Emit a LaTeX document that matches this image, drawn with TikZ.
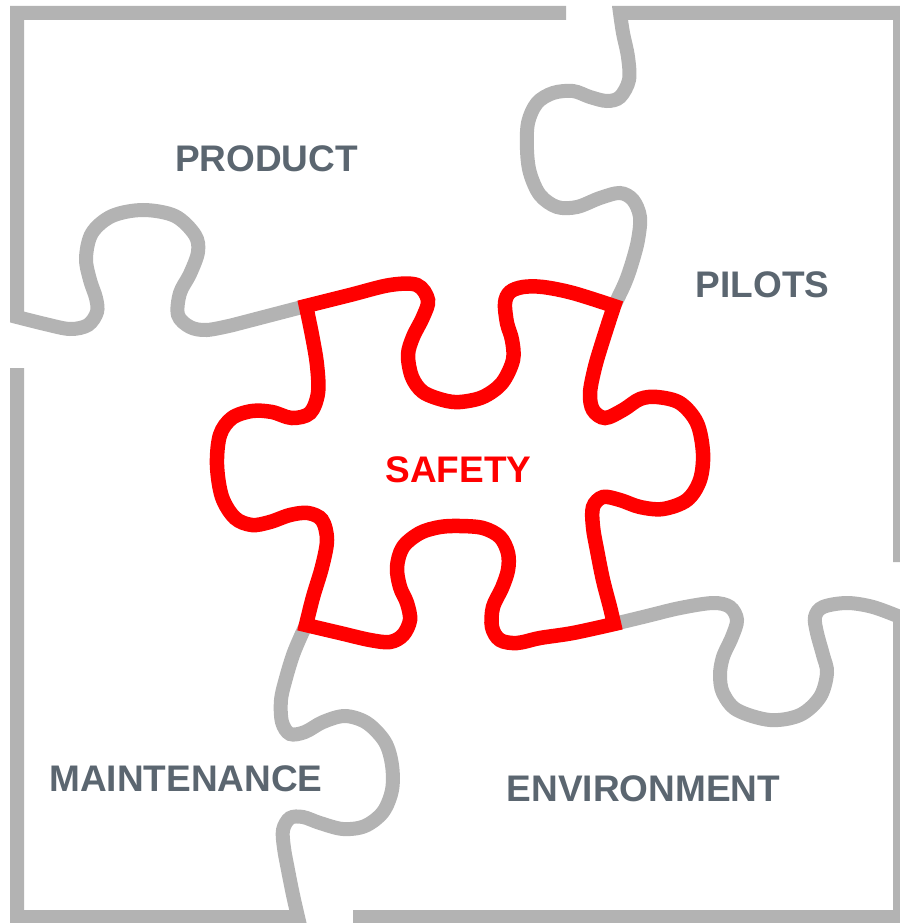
\documentclass[tikz,border=0pt]{standalone}
\usepackage{fontspec}
\setmainfont{Liberation Sans}
\definecolor{edgegray}{RGB}{179,179,179}
\definecolor{labelgray}{RGB}{91,102,112}
\definecolor{safered}{RGB}{255,0,0}
\tikzset{
  outline/.style={draw=edgegray, line width=14pt, line cap=butt, line join=miter},
  core/.style={draw=safered, line width=14.5pt, line cap=butt, line join=miter},
  label/.style={inner sep=0pt, text=labelgray, font=\fontsize{37}{40}\selectfont\bfseries},
  corelabel/.style={label, text=safered},
  wavy/.style={smooth, tension=0.55}
}
\begin{document}
\begin{tikzpicture}[x=1pt, y=-1pt]
\useasboundingbox (0,0) rectangle (899,923);

% top-left piece
\draw[outline] (566,13) -- (17,13) -- (17,317)
  -- plot[wavy] coordinates {(17,317) (45,324) (70,329) (88,325) (97,312) (96,298)
     (90,280) (86,258) (92,233) (112,216) (143,210) (175,216) (195,235) (198,252)
     (190,274) (180,293) (178,315) (190,327) (207,330) (233,325)}
  -- (306,306);

% top-right piece
\draw[outline] (900,562) -- (900,13) -- (620,13)
  -- plot[wavy] coordinates {(620,13) (623,33) (628,57) (629,80) (620,97) (607,101)
     (590,97) (573,91) (553,93) (537,103) (528,123) (527,150) (530,173) (540,195)
     (557,207) (577,207) (600,198) (620,193) (633,200) (640,217) (638,240)
     (632,263) (625,283) (614,306)};

% bottom-left piece
\draw[outline] (17,368) -- (17,917) -- (298,917)
  -- plot[wavy] coordinates {(298,917) (293,895) (288,870) (284,848) (283,830)
     (290,818) (303,817) (320,823) (343,829) (365,826) (383,812) (392,790)
     (392,765) (385,742) (367,723) (345,716) (323,722) (305,732) (290,734)
     (282,722) (281,700) (286,678) (293,655) (300,638) (306,625)};

% bottom-right piece
\draw[outline] (614,624)
  -- plot[wavy] coordinates {(614,624) (647,616) (680,608) (713,603) (730,607)
     (737,620) (732,637) (723,657) (720,675) (723,693) (737,710) (770,720)
     (800,715) (820,697) (827,673) (823,655) (817,633) (815,617) (823,607)
     (847,603) (873,607) (900,617)}
  -- (900,917) -- (353,917);

% central piece
\draw[core] (306,306)
  -- plot[wavy] coordinates {(306,306) (350,295) (390,285) (417,285) (428,300)
     (423,317) (413,337) (408,355) (412,377) (423,392) (443,400) (460,402)
     (483,397) (502,383) (513,360) (512,340) (507,323) (505,303) (510,292)
     (523,287) (543,287) (573,293) (614,306)}
  -- plot[wavy] coordinates {(614,306) (603,340) (595,367) (590,393) (593,410)
     (605,418) (623,410) (640,399) (657,397) (680,403) (697,423) (703,453)
     (700,480) (687,500) (663,509) (640,507) (620,500) (603,497) (593,507)
     (593,527) (597,550) (603,580) (610,607) (614,624)}
  -- plot[wavy] coordinates {(614,624) (573,633) (540,638) (517,643) (500,640)
     (492,627) (493,607) (502,588) (508,570) (508,553) (500,537) (483,528)
     (460,526) (440,527) (420,533) (403,547) (397,567) (400,587) (407,603)
     (410,620) (403,635) (390,642) (370,640) (340,633) (306,625)}
  -- plot[wavy] coordinates {(306,625) (313,597) (322,567) (327,540) (322,520)
     (308,513) (290,515) (270,522) (252,525) (235,518) (222,497) (217,465)
     (220,435) (232,418) (252,411) (272,412) (292,418) (310,413) (318,393)
     (317,365) (312,335) (306,306)}
  -- cycle;

\node[label] (product) at (266.5,158.5) {PRODUCT};
\node[label] (pilots) at (762.5,285) {PILOTS};
\node[corelabel] (safety) at (458.5,470) {SAFETY};
\node[label] (maintenance) at (186,778.5) {MAINTENANCE};
\node[label] (environment) at (643.5,788.5) {ENVIRONMENT};
\end{tikzpicture}
\end{document}
